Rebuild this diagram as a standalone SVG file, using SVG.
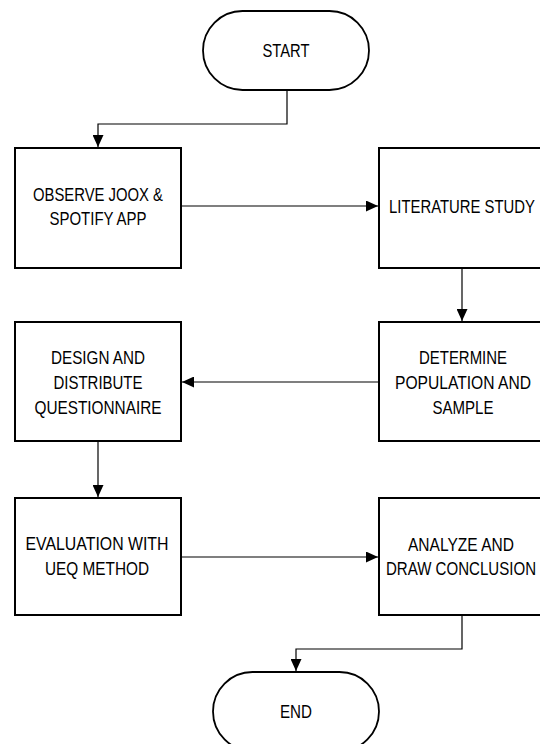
<svg xmlns="http://www.w3.org/2000/svg" width="540" height="744" viewBox="0 0 540 744">
  <style>
    .box { fill: #ffffff; stroke: #000000; stroke-width: 2; }
    .term { fill: #ffffff; stroke: #000000; stroke-width: 1.8; }
    .conn { fill: none; stroke: #000000; stroke-width: 1.2; marker-end: url(#arrow); }
    text { font-family: "Liberation Sans", Arial, sans-serif; font-size: 18px; fill: #000000; text-anchor: middle; }
  </style>
  <defs>
    <marker id="arrow" markerUnits="userSpaceOnUse" markerWidth="12" markerHeight="11" refX="12" refY="5.5" orient="auto">
      <path d="M0,0 L12,5.5 L0,11 z" fill="#000000"/>
    </marker>
  </defs>
  <rect width="540" height="744" fill="#ffffff"/>
  <g id="connectors">
    <path class="conn" d="M287 90 V124 H98 V147"/>
    <path class="conn" d="M181 206 H378"/>
    <path class="conn" d="M462 268 V321"/>
    <path class="conn" d="M379 382 H182"/>
    <path class="conn" d="M98 441 V497"/>
    <path class="conn" d="M181 557 H378"/>
    <path class="conn" d="M462 615 V649 H296 V671"/>
  </g>
  <g id="start">
    <rect class="term" x="203" y="11" width="166" height="79" rx="39.5" ry="39.5"/>
    <text x="286" y="57" textLength="47" lengthAdjust="spacingAndGlyphs">START</text>
  </g>
  <g id="observe">
    <rect class="box" x="15" y="148" width="166" height="120"/>
    <text x="98" y="201" textLength="130" lengthAdjust="spacingAndGlyphs">OBSERVE JOOX &amp;</text>
    <text x="98" y="225" textLength="97" lengthAdjust="spacingAndGlyphs">SPOTIFY APP</text>
  </g>
  <g id="literature">
    <rect class="box" x="379" y="148" width="162" height="120"/>
    <text x="462" y="213" textLength="146" lengthAdjust="spacingAndGlyphs">LITERATURE STUDY</text>
  </g>
  <g id="determine">
    <rect class="box" x="379" y="322" width="162" height="119"/>
    <text x="463" y="364" textLength="88" lengthAdjust="spacingAndGlyphs">DETERMINE</text>
    <text x="463" y="389" textLength="136" lengthAdjust="spacingAndGlyphs">POPULATION AND</text>
    <text x="463" y="414" textLength="61" lengthAdjust="spacingAndGlyphs">SAMPLE</text>
  </g>
  <g id="design">
    <rect class="box" x="15" y="322" width="166" height="119"/>
    <text x="98" y="364" textLength="94" lengthAdjust="spacingAndGlyphs">DESIGN AND</text>
    <text x="98" y="389" textLength="89" lengthAdjust="spacingAndGlyphs">DISTRIBUTE</text>
    <text x="98" y="414" textLength="127" lengthAdjust="spacingAndGlyphs">QUESTIONNAIRE</text>
  </g>
  <g id="evaluation">
    <rect class="box" x="15" y="498" width="166" height="117"/>
    <text x="97" y="550" textLength="143" lengthAdjust="spacingAndGlyphs">EVALUATION WITH</text>
    <text x="97" y="575" textLength="104" lengthAdjust="spacingAndGlyphs">UEQ METHOD</text>
  </g>
  <g id="analyze">
    <rect class="box" x="379" y="498" width="162" height="117"/>
    <text x="461" y="551" textLength="106" lengthAdjust="spacingAndGlyphs">ANALYZE AND</text>
    <text x="461" y="575" textLength="150" lengthAdjust="spacingAndGlyphs">DRAW CONCLUSION</text>
  </g>
  <g id="end">
    <rect class="term" x="213" y="672" width="166" height="79" rx="39.5" ry="39.5"/>
    <text x="296" y="718" textLength="32" lengthAdjust="spacingAndGlyphs">END</text>
  </g>
</svg>
